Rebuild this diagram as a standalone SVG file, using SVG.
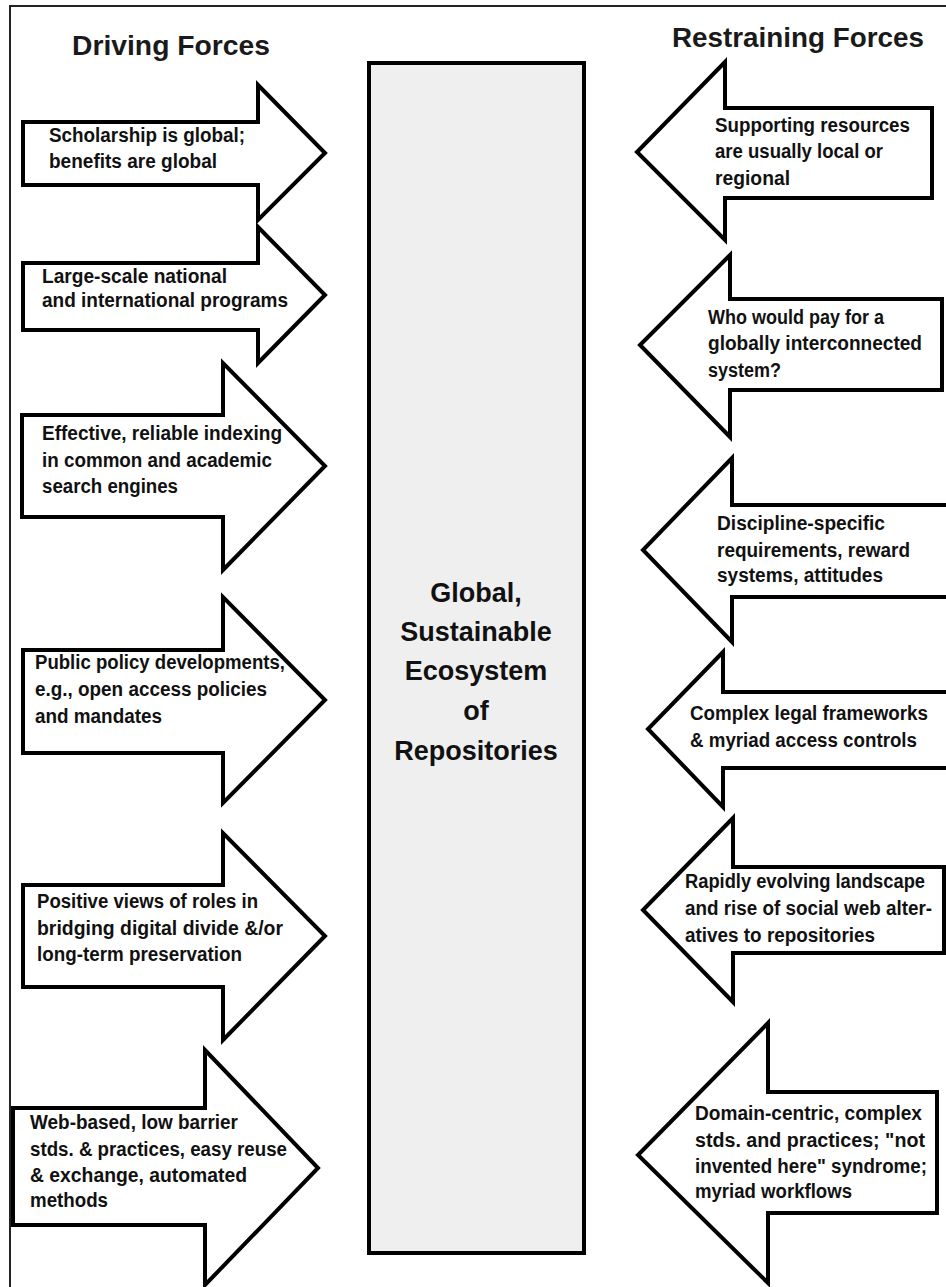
<svg xmlns="http://www.w3.org/2000/svg" width="946" height="1287" viewBox="0 0 946 1287">
<style>
.arrow{fill:#ffffff;stroke:#000000;stroke-width:4;stroke-linejoin:miter}
.lbl{font-family:"Liberation Sans",Arial,sans-serif;font-weight:bold;font-size:19.5px;fill:#111111}
.title{font-family:"Liberation Sans",Arial,sans-serif;font-weight:bold;font-size:27px;fill:#1a1a1a}
.center{font-family:"Liberation Sans",Arial,sans-serif;font-weight:bold;font-size:27px;fill:#111111;text-anchor:middle}
</style>
<rect x="0" y="0" width="946" height="1287" fill="#ffffff"/>
<rect x="10" y="6" width="960" height="1320" fill="none" stroke="#222222" stroke-width="2"/>

<g id="title-driving"><text class="title" x="72" y="55" textLength="198" lengthAdjust="spacingAndGlyphs">Driving Forces</text></g>
<g id="title-restraining"><text class="title" x="672" y="47" textLength="252" lengthAdjust="spacingAndGlyphs">Restraining Forces</text></g>

<g id="center">
<rect x="369" y="63" width="215" height="1190" fill="#efefef" stroke="#000000" stroke-width="4"/>
<text class="center" x="476" y="602">Global,</text>
<text class="center" x="476" y="641">Sustainable</text>
<text class="center" x="476" y="680">Ecosystem</text>
<text class="center" x="476" y="720">of</text>
<text class="center" x="476" y="760">Repositories</text>
</g>

<g id="drive1">
<path class="arrow" d="M23,122 L258,122 L258,85 L325,153 L258,220 L258,185 L23,185 Z"/>
<text class="lbl" x="49" y="142" textLength="196" lengthAdjust="spacingAndGlyphs">Scholarship is global;</text>
<text class="lbl" x="49" y="168" textLength="168" lengthAdjust="spacingAndGlyphs">benefits are global</text>
</g>
<g id="drive2">
<path class="arrow" d="M23,263 L258,263 L258,227 L325,295 L258,363 L258,330 L23,330 Z"/>
<text class="lbl" x="42" y="283" textLength="185" lengthAdjust="spacingAndGlyphs">Large-scale national</text>
<text class="lbl" x="42" y="307" textLength="246" lengthAdjust="spacingAndGlyphs">and international programs</text>
</g>
<g id="drive3">
<path class="arrow" d="M22,415 L223,415 L223,363 L325,466 L223,570 L223,517 L22,517 Z"/>
<text class="lbl" x="42" y="440" textLength="240" lengthAdjust="spacingAndGlyphs">Effective, reliable indexing</text>
<text class="lbl" x="42" y="467" textLength="230" lengthAdjust="spacingAndGlyphs">in common and academic</text>
<text class="lbl" x="42" y="493" textLength="136" lengthAdjust="spacingAndGlyphs">search engines</text>
</g>
<g id="drive4">
<path class="arrow" d="M23,650 L223,650 L223,597 L325,700 L223,803 L223,753 L23,753 Z"/>
<text class="lbl" x="35" y="669" textLength="250" lengthAdjust="spacingAndGlyphs">Public policy developments,</text>
<text class="lbl" x="35" y="696" textLength="232" lengthAdjust="spacingAndGlyphs">e.g., open access policies</text>
<text class="lbl" x="35" y="723" textLength="127" lengthAdjust="spacingAndGlyphs">and mandates</text>
</g>
<g id="drive5">
<path class="arrow" d="M23,885 L223,885 L223,833 L325,936 L223,1040 L223,987 L23,987 Z"/>
<text class="lbl" x="37" y="908" textLength="221" lengthAdjust="spacingAndGlyphs">Positive views of roles in</text>
<text class="lbl" x="37" y="935" textLength="246" lengthAdjust="spacingAndGlyphs">bridging digital divide &amp;/or</text>
<text class="lbl" x="37" y="961" textLength="205" lengthAdjust="spacingAndGlyphs">long-term preservation</text>
</g>
<g id="drive6">
<path class="arrow" d="M13,1108 L205,1108 L205,1050 L318,1168 L205,1285 L205,1225 L13,1225 Z"/>
<text class="lbl" x="30" y="1129" textLength="208" lengthAdjust="spacingAndGlyphs">Web-based, low barrier</text>
<text class="lbl" x="30" y="1156" textLength="257" lengthAdjust="spacingAndGlyphs">stds. &amp; practices, easy reuse</text>
<text class="lbl" x="30" y="1182" textLength="217" lengthAdjust="spacingAndGlyphs">&amp; exchange, automated</text>
<text class="lbl" x="30" y="1207" textLength="78" lengthAdjust="spacingAndGlyphs">methods</text>
</g>

<g id="restrain1">
<path class="arrow" d="M932,108 L725,108 L725,62 L637,152 L725,240 L725,198 L932,198 Z"/>
<text class="lbl" x="715" y="132" textLength="195" lengthAdjust="spacingAndGlyphs">Supporting resources</text>
<text class="lbl" x="715" y="158" textLength="168" lengthAdjust="spacingAndGlyphs">are usually local or</text>
<text class="lbl" x="715" y="185" textLength="75" lengthAdjust="spacingAndGlyphs">regional</text>
</g>
<g id="restrain2">
<path class="arrow" d="M942,299 L730,299 L730,255 L640,345 L730,437 L730,390 L942,390 Z"/>
<text class="lbl" x="708" y="324" textLength="176" lengthAdjust="spacingAndGlyphs">Who would pay for a</text>
<text class="lbl" x="708" y="350" textLength="214" lengthAdjust="spacingAndGlyphs">globally interconnected</text>
<text class="lbl" x="708" y="377" textLength="73" lengthAdjust="spacingAndGlyphs">system?</text>
</g>
<g id="restrain3">
<path class="arrow" d="M952,505 L732,505 L732,458 L643,550 L732,642 L732,597 L952,597 Z"/>
<text class="lbl" x="717" y="530" textLength="168" lengthAdjust="spacingAndGlyphs">Discipline-specific</text>
<text class="lbl" x="717" y="557" textLength="193" lengthAdjust="spacingAndGlyphs">requirements, reward</text>
<text class="lbl" x="717" y="582" textLength="166" lengthAdjust="spacingAndGlyphs">systems, attitudes</text>
</g>
<g id="restrain4">
<path class="arrow" d="M952,692 L723,692 L723,652 L648,729 L723,807 L723,768 L952,768 Z"/>
<text class="lbl" x="690" y="720" textLength="238" lengthAdjust="spacingAndGlyphs">Complex legal frameworks</text>
<text class="lbl" x="690" y="747" textLength="227" lengthAdjust="spacingAndGlyphs">&amp; myriad access controls</text>
</g>
<g id="restrain5">
<path class="arrow" d="M944,867 L733,867 L733,818 L643,910 L733,1002 L733,953 L944,953 Z"/>
<text class="lbl" x="685" y="888" textLength="240" lengthAdjust="spacingAndGlyphs">Rapidly evolving landscape</text>
<text class="lbl" x="685" y="915" textLength="247" lengthAdjust="spacingAndGlyphs">and rise of social web alter-</text>
<text class="lbl" x="685" y="942" textLength="190" lengthAdjust="spacingAndGlyphs">atives to repositories</text>
</g>
<g id="restrain6">
<path class="arrow" d="M937,1092 L768,1092 L768,1023 L638,1155 L768,1283 L768,1213 L937,1213 Z"/>
<text class="lbl" x="695" y="1120" textLength="227" lengthAdjust="spacingAndGlyphs">Domain-centric, complex</text>
<text class="lbl" x="695" y="1147" textLength="230" lengthAdjust="spacingAndGlyphs">stds. and practices; "not</text>
<text class="lbl" x="695" y="1173" textLength="232" lengthAdjust="spacingAndGlyphs">invented here" syndrome;</text>
<text class="lbl" x="695" y="1198" textLength="157" lengthAdjust="spacingAndGlyphs">myriad workflows</text>
</g>
</svg>
